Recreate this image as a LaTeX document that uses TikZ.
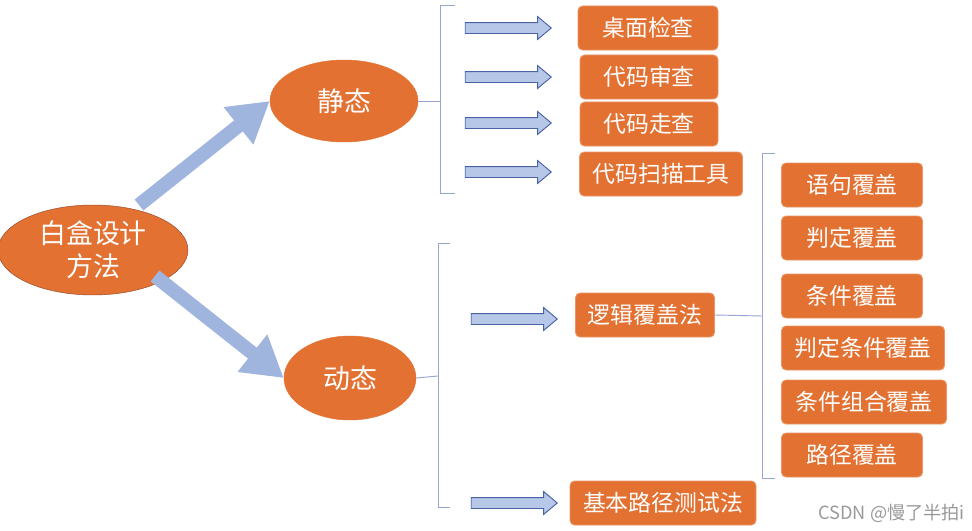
\documentclass[tikz,border=0pt]{standalone}
\usepackage{fontspec}
\setmainfont{Noto Sans CJK SC}
\usetikzlibrary{arrows.meta,shapes.geometric,shapes.arrows}

\definecolor{boxorange}{RGB}{226,113,50}
\definecolor{rootedge}{RGB}{150,75,45}
\definecolor{bigblue}{RGB}{160,181,222}
\definecolor{arrowfill}{RGB}{182,199,232}
\definecolor{arrowedge}{RGB}{72,98,165}
\definecolor{bracketblue}{RGB}{150,165,210}

\tikzset{
  topic/.style={ellipse, fill=boxorange, draw=boxorange, text=white, inner sep=0pt,
    font=\fontsize{23}{28}\selectfont, align=center},
  item/.style={rectangle, rounded corners=4pt, fill=boxorange, draw=boxorange!75!white,
    line width=0.8pt, text=white, inner sep=0pt, minimum height=1.32cm,
    font=\fontsize{19.5}{24}\selectfont},
  bigarrow/.style={draw=bigblue, line width=0.42cm, -{Triangle[length=1.2cm,width=1.35cm]}},
  smallarrow/.style={single arrow, fill=arrowfill, draw=arrowedge, line width=0.8pt,
    minimum height=2.58cm, single arrow head extend=0.18cm, inner sep=0.15cm,
    single arrow tip angle=80},
  bracket/.style={draw=bracketblue, line width=0.8pt}
}

\begin{document}
\begin{tikzpicture}[x=0.03cm, y=-0.03cm]
    \useasboundingbox (0,0) rectangle (972,531);

    % Nodes
    \node[topic, draw=rootedge, minimum width=5.7cm, minimum height=2.7cm] (root) at (93,250) {白盒设计\\方法};
    \node[topic, minimum width=4.44cm, minimum height=2.46cm] (jingtai) at (344,101) {静态};
    \node[topic, minimum width=3.96cm, minimum height=2.52cm] (dongtai) at (350,378) {动态};

    \node[item, minimum width=4.2cm] (desk) at (648,28) {桌面检查};
    \node[item, minimum width=4.14cm] (review) at (649,77) {代码审查};
    \node[item, minimum width=4.14cm] (walk) at (649,124) {代码走查};
    \node[item, minimum width=4.89cm] (scan) at (661,174) {代码扫描工具};
    \node[item, minimum width=4.17cm] (logic) at (645,315) {逻辑覆盖法};
    \node[item, minimum width=5.58cm] (basis) at (663,503) {基本路径测试法};

    \node[item, minimum width=4.23cm] (stmt) at (852,185) {语句覆盖};
    \node[item, minimum width=4.23cm] (decision) at (852,238) {判定覆盖};
    \node[item, minimum width=4.23cm] (cond) at (852,296) {条件覆盖};
    \node[item, minimum width=4.89cm] (deccond) at (863,348) {判定条件覆盖};
    \node[item, minimum width=4.95cm] (multi) at (864,402) {条件组合覆盖};
    \node[item, minimum width=4.23cm] (path) at (852,455) {路径覆盖};

    \node[smallarrow] (a1) at (505,28) {};
    \node[smallarrow] (a2) at (505,77) {};
    \node[smallarrow] (a3) at (505,123) {};
    \node[smallarrow] (a4) at (505,172) {};
    \node[smallarrow] (a5) at (511,319) {};
    \node[smallarrow] (a6) at (511,503) {};

    \node[anchor=east, text=black!40, font=\fontsize{15.5}{18}\selectfont] (mark) at (969,513) {CSDN @慢了半拍i};

    % Bracket corners
    \coordinate (s1) at (440,101);
    \coordinate (s2) at (438,376);
    \coordinate (s3) at (762,316);

    % Edges
    \coordinate (jtail) at (139,205);
    \coordinate (dtail) at (155,276);
    \draw[bigarrow] (jtail) -- (jingtai.west);
    \draw[bigarrow] (dtail) -- (dongtai.west);

    \draw[bracket] (jingtai.east) -- (s1);
    \draw[bracket] (455,5) -- (440,5) -- (440,193) -- (455,193);
    \draw[bracket] (dongtai.east) -- (s2);
    \draw[bracket] (450,243) -- (438,243) -- (438,507) -- (450,507);
    \draw[bracket] (logic.east) -- (s3);
    \draw[bracket] (775,153) -- (762,153) -- (762,478) -- (775,478);
\end{tikzpicture}
\end{document}
